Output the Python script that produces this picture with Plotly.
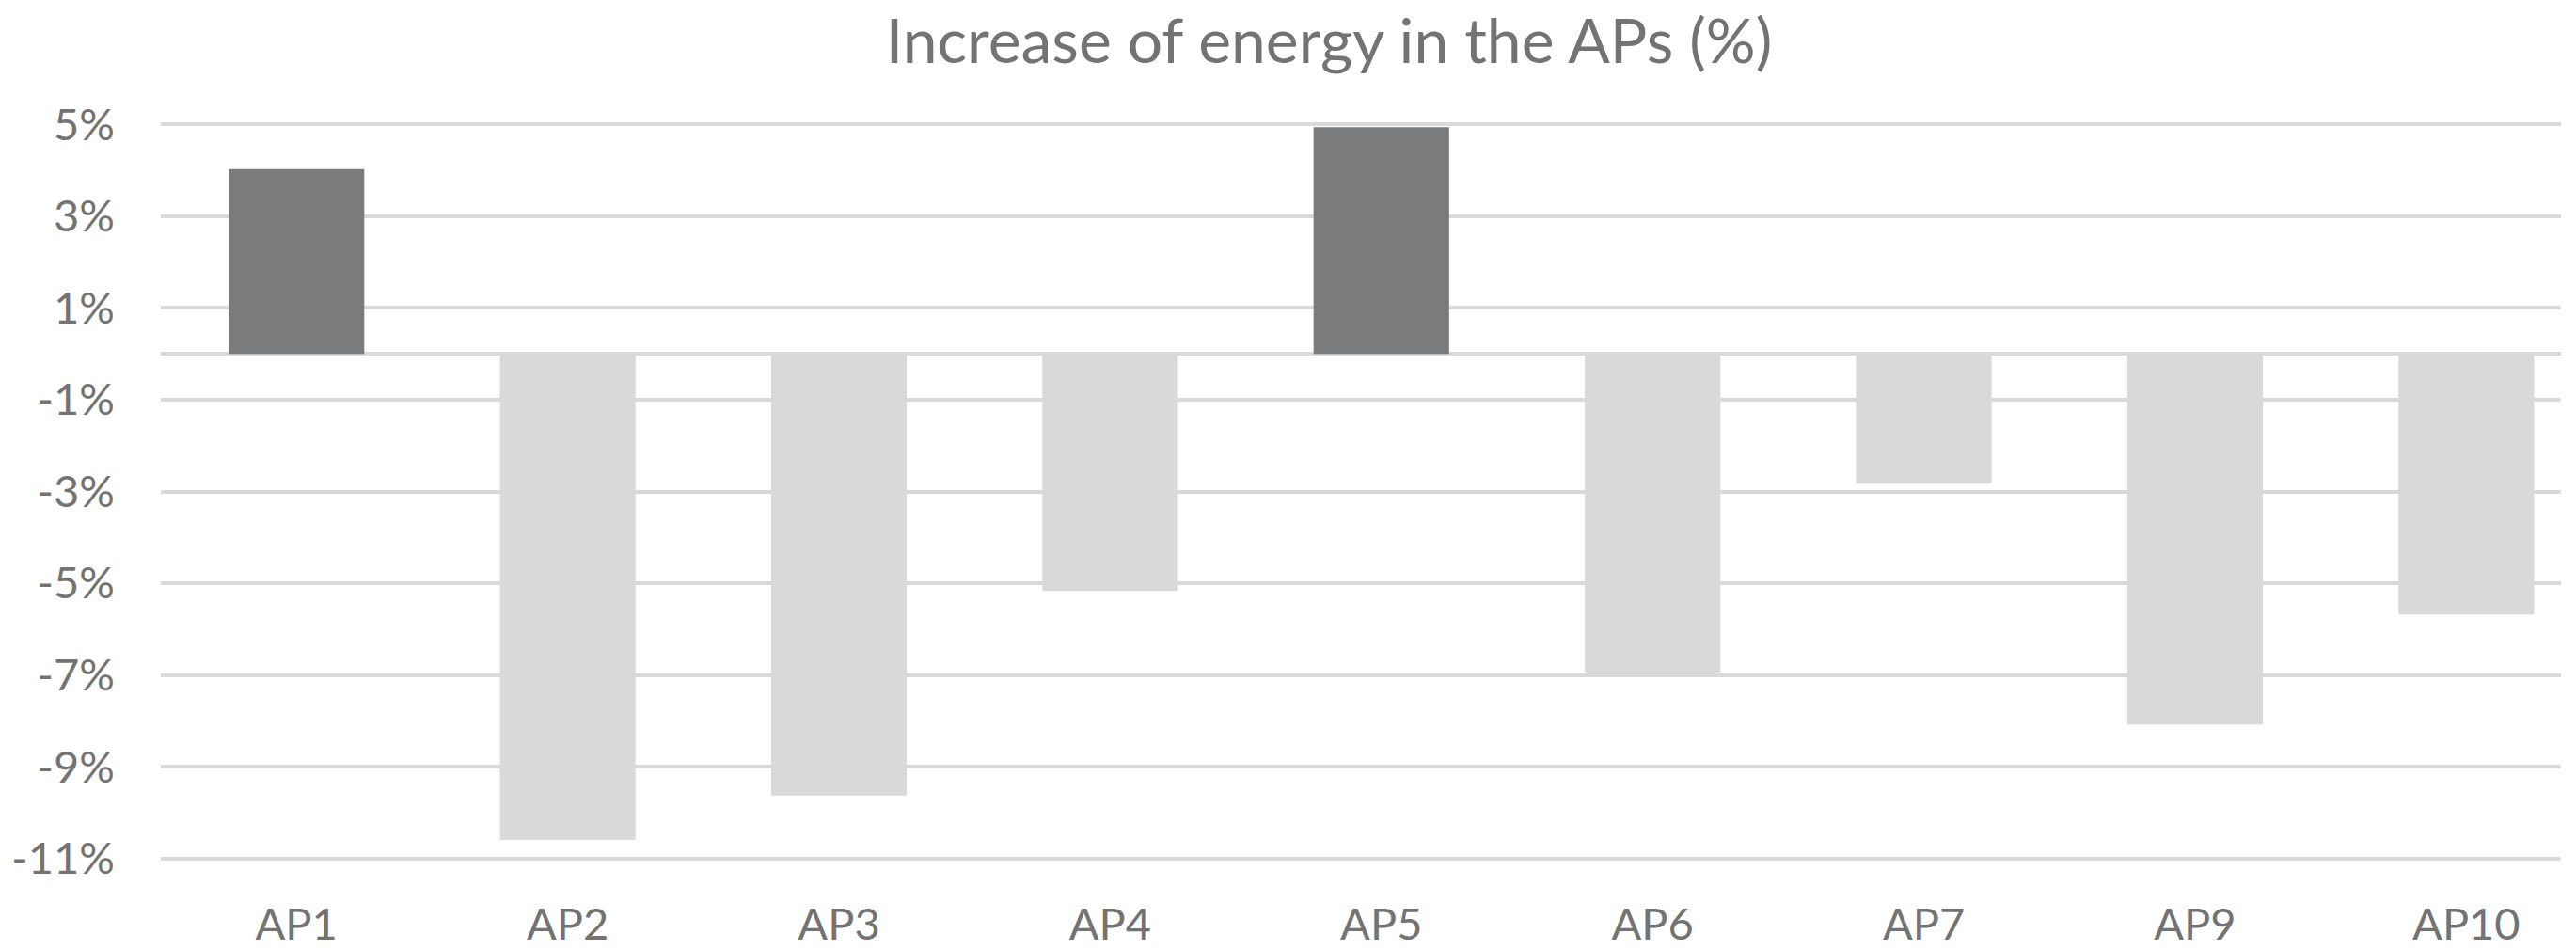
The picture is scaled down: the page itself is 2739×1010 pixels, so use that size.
import plotly.graph_objects as go

categories = ["AP1", "AP2", "AP3", "AP4", "AP5", "AP6", "AP7", "AP9", "AP10"]
increase_pct = [4.03, -10.60, -9.63, -5.17, 4.94, -6.95, -2.83, -8.08, -5.68]
y_tick_values = [-11, -9, -7, -5, -3, -1, 1, 3, 5]
y_tick_labels = ["-11%", "-9%", "-7%", "-5%", "-3%", "-1%", "1%", "3%", "5%"]

DARK = "#7a7b7d"
LIGHT = "#d9d9d9"
TEXT = "#737373"
FONT = "Lato"

bar_colors = [DARK if v > 0 else LIGHT for v in increase_pct]

fig = go.Figure(
    go.Bar(
        x=categories,
        y=increase_pct,
        marker=dict(color=bar_colors, line=dict(width=0)),
        showlegend=False,
        hoverinfo="skip",
    )
)

fig.update_layout(
    width=2739,
    height=1010,
    paper_bgcolor="white",
    plot_bgcolor="white",
    margin=dict(l=171, r=16, t=130, b=95, autoexpand=False),
    bargap=0.5,
    font=dict(family=FONT, color=TEXT, size=47),
    title=dict(
        text="Increase of energy in the APs (%)",
        x=1413 / 2739,
        xref="container",
        xanchor="center",
        y=1 - 44 / 1010,
        yref="container",
        yanchor="middle",
        font=dict(family=FONT, size=66, color=TEXT),
    ),
)

fig.update_yaxes(
    range=[-11.05, 5.05],
    tickvals=y_tick_values,
    ticktext=y_tick_labels,
    showgrid=True,
    gridcolor=LIGHT,
    gridwidth=4,
    zeroline=True,
    zerolinecolor=LIGHT,
    zerolinewidth=4,
    showline=False,
    ticks="",
    ticklabelstandoff=48,
    automargin=False,
    tickfont=dict(family=FONT, size=47, color=TEXT),
)

fig.update_xaxes(
    range=[-0.5, 8.349],
    showgrid=False,
    showline=False,
    zeroline=False,
    ticks="",
    ticklabelstandoff=36,
    automargin=False,
    tickfont=dict(family=FONT, size=47, color=TEXT),
)

fig.write_html(
    "out.html",
    config={"displayModeBar": False},
    post_script="document.body.style.margin='0';document.body.style.overflow='hidden';",
)
